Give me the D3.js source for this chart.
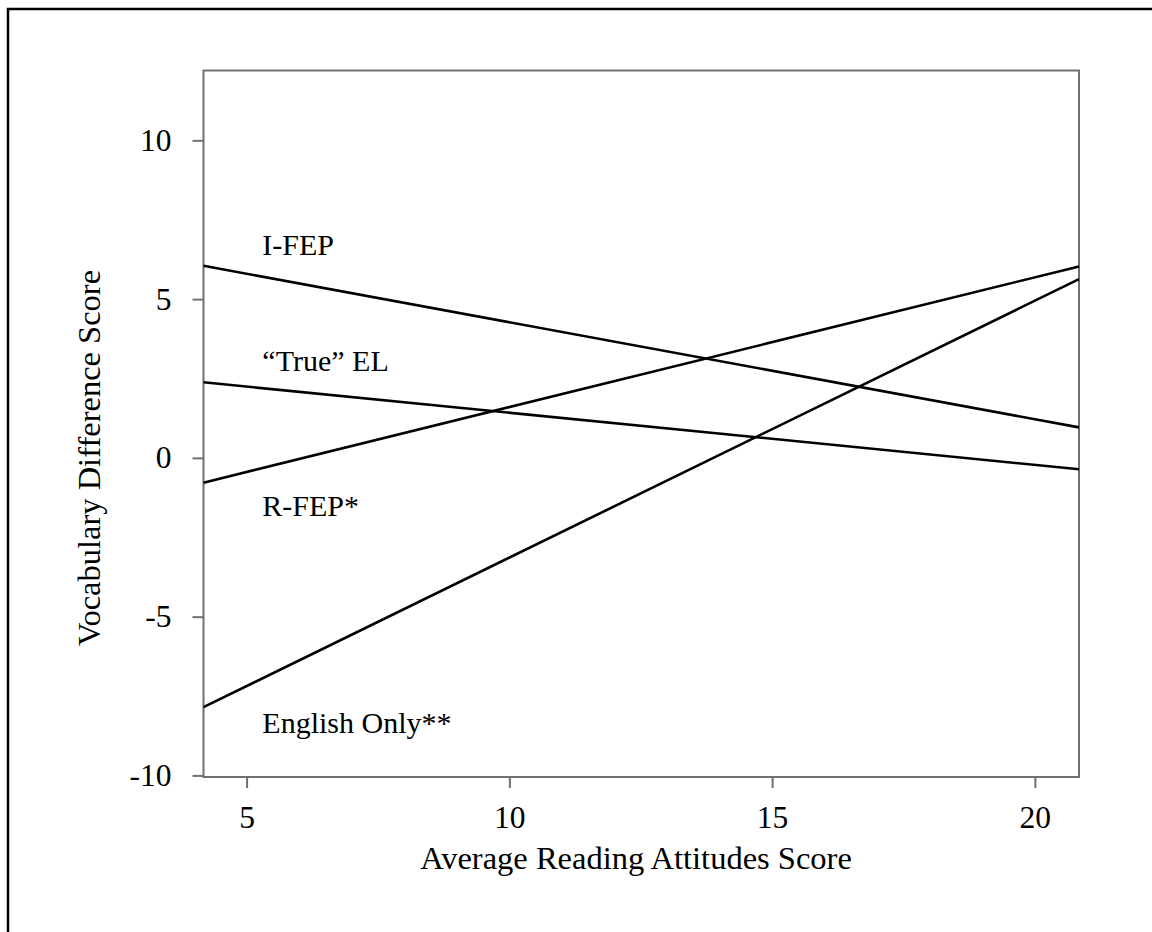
<!DOCTYPE html>
<html>
<head>
<meta charset="utf-8">
<script src="https://cdn.jsdelivr.net/npm/d3@7"></script>
<style>
  body { margin: 0; background: #fff; }
  text { font-family: "Liberation Serif", "Times New Roman", serif; fill: #000; }
</style>
</head>
<body>
<svg width="1152" height="932"></svg>
<script>
// data
const groups = ["I-FEP", "\u201cTrue\u201d EL", "R-FEP*", "English Only**"];
const xEnds = [4.18, 20.84];
const iFep = [6.05, 0.96];
const trueEl = [2.38, -0.36];
const rFep = [-0.78, 6.03];
const englishOnly = [-7.85, 5.63];
const xTicks = [5, 10, 15, 20];
const yTicks = [-10, -5, 0, 5, 10];

const series = [iFep, trueEl, rFep, englishOnly];
// label offsets from the line's left end (px)
const labelDy = [-11, -11, 33, 26];

const svg = d3.select('svg');

const x = d3.scaleLinear().domain([4.18, 20.84]).range([203.5, 1079]);
const y = d3.scaleLinear().domain([-10.05, 12.2]).range([777, 70.5]);

// outer frame (only left & top are inside the picture)
svg.append('path')
   .attr('d', 'M8,940V9H1160')
   .attr('fill', 'none')
   .attr('stroke', '#000')
   .attr('stroke-width', 2.5);

const axisGray = '#707070';

const xAxis = svg.append('g')
    .attr('transform', `translate(0, ${y.range()[0]})`)
    .call(d3.axisBottom(x).tickValues(xTicks).tickFormat(d => String(d)).tickSize(11).tickPadding(18));

const yAxis = svg.append('g')
    .attr('transform', `translate(${x.range()[0]}, 0)`)
    .call(d3.axisLeft(y).tickValues(yTicks).tickFormat(d => String(d)).tickSize(11).tickPadding(21));

[xAxis, yAxis].forEach(a => {
  a.select('.domain').remove();
  a.selectAll('line').attr('stroke', axisGray).attr('stroke-width', 2);
  a.selectAll('text').attr('font-size', 31.5).attr('font-family', '"Liberation Serif", serif').attr('fill', '#000');
});

// plot frame
svg.append('rect')
   .attr('x', x.range()[0])
   .attr('y', y.range()[1])
   .attr('width', x.range()[1] - x.range()[0])
   .attr('height', y.range()[0] - y.range()[1])
   .attr('fill', 'none')
   .attr('stroke', axisGray)
   .attr('stroke-width', 2);

const line = d3.line()
    .x((d, i) => x(xEnds[i]))
    .y(d => y(d));

svg.append('g').selectAll('path')
   .data(series)
   .enter()
   .append('path')
   .attr('d', line)
   .attr('fill', 'none')
   .attr('stroke', '#000')
   .attr('stroke-width', 2.6);

svg.append('g').selectAll('text')
   .data(groups)
   .enter()
   .append('text')
   .attr('x', x(5.3))
   .attr('y', (d, i) => y(series[i][0]) + labelDy[i])
   .attr('font-size', 30)
   .text(d => d);

svg.append('text')
   .attr('x', 636)
   .attr('y', 869)
   .attr('text-anchor', 'middle')
   .attr('font-size', 32.5)
   .text('Average Reading Attitudes Score');

svg.append('text')
   .attr('transform', `translate(100, ${y(0)}) rotate(-90)`)
   .attr('text-anchor', 'middle')
   .attr('font-size', 32.5)
   .text('Vocabulary Difference Score');
</script>
</body>
</html>
